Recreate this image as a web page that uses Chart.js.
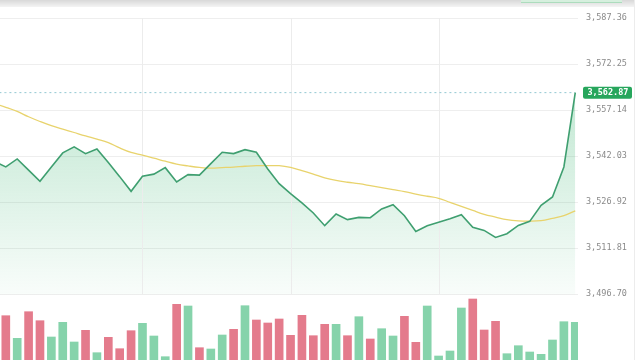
<!DOCTYPE html>
<html>
<head>
<meta charset="utf-8">
<script src="https://cdn.jsdelivr.net/npm/chart.js@4.4.1/dist/chart.umd.min.js"></script>
<style>
  html, body { margin: 0; padding: 0; background: #fff; overflow: hidden; }
  #wrap { position: relative; width: 641px; height: 360px; }
  #priceChart { position: absolute; left: 0; top: 0; }
  .topbar { position: absolute; left: 0; top: 0; width: 634px; height: 7px; background: linear-gradient(#d8d8d8, #f4f4f4); }
  .btn { position: absolute; left: 521px; top: 0; width: 101px; height: 2px; background: #d6efde; border-bottom: 1px solid #acdcbd; }
  .edge { position: absolute; left: 634px; top: 0; width: 1px; height: 360px; background: #ececec; }
</style>
</head>
<body>
<div id="wrap">
  <canvas id="priceChart" width="641" height="360"></canvas>
  <div class="topbar"></div>
  <div class="btn"></div>
  <div class="edge"></div>
</div>
<script>
// closing prices, one per bar (the first one sits just off the left edge)
var closes = [3540.23, 3538.49, 3541.12, 3537.44, 3533.76, 3538.43, 3543.09, 3545.06, 3542.86, 3544.40,
              3539.91, 3535.31, 3530.48, 3535.41, 3536.13, 3538.26, 3533.57, 3535.96, 3535.80, 3539.58,
              3543.29, 3542.86, 3544.17, 3543.29, 3537.84, 3533.01, 3529.72, 3526.67, 3523.39, 3519.22,
              3523.06, 3521.19, 3521.94, 3521.84, 3524.70, 3526.11, 3522.50, 3517.34, 3519.22, 3520.36,
              3521.51, 3522.83, 3518.66, 3517.67, 3515.37, 3516.59, 3519.31, 3520.63, 3525.88, 3528.64,
              3538.49, 3562.87];

// moving average (yellow)
var movingAvg = [3559.28, 3558.07, 3556.69, 3554.95, 3553.40, 3552.02, 3550.91, 3549.79, 3548.67, 3547.62,
                 3546.47, 3544.73, 3543.26, 3542.37, 3541.38, 3540.36, 3539.41, 3538.82, 3538.33, 3538.07,
                 3538.26, 3538.46, 3538.72, 3538.92, 3538.92, 3538.89, 3538.33, 3537.28, 3536.13, 3534.91,
                 3534.06, 3533.47, 3532.98, 3532.35, 3531.69, 3531.04, 3530.41, 3529.59, 3528.87, 3528.21,
                 3526.87, 3525.52, 3524.21, 3522.93, 3522.04, 3521.19, 3520.79, 3520.69, 3520.86, 3521.61,
                 3522.50, 3524.08];

// volume (visible part only, the pane is cut off at the bottom)
var volumes = [300, 443, 217, 483, 393, 230, 377, 180, 297, 73,
               227, 113, 293, 367, 240, 33, 557, 540, 123, 110,
               250, 307, 543, 400, 370, 410, 247, 447, 243, 357,
               357, 243, 433, 210, 313, 240, 437, 177, 540, 40,
               90, 520, 610, 300, 387, 63, 143, 80, 57, 200,
               383, 377];

var priceTicks = [3496.70, 3511.81, 3526.92, 3542.03, 3557.14, 3572.25, 3587.36];
var timeGrid = [13, 26, 39];

var lastPrice = closes[closes.length - 1];
var upColor = '#86d3ab';
var downColor = '#e47b8c';

function points(arr) {
    return arr.map(function (v, i) { return { x: i, y: v }; });
}

function fmt(v) {
    return v.toLocaleString('en-US', { minimumFractionDigits: 2, maximumFractionDigits: 2 });
}

var barColors = volumes.map(function (v, i) {
    return i > 0 && closes[i] >= closes[i - 1] ? upColor : downColor;
});

// vertical time grid, only over the price pane
var timeGridPlugin = {
    id: 'timeGrid',
    beforeDatasetsDraw: function (chart) {
        var c = chart.ctx, x = chart.scales.x, y = chart.scales.y;
        var bottom = y.getPixelForValue(priceTicks[0]);
        c.save();
        c.strokeStyle = '#ececec';
        c.lineWidth = 1;
        timeGrid.forEach(function (t) {
            var px = Math.round(x.getPixelForValue(t)) + 0.5;
            c.beginPath();
            c.moveTo(px, chart.chartArea.top);
            c.lineTo(px, bottom);
            c.stroke();
        });
        c.restore();
    }
};

// last price badge on the axis
var lastPriceTag = {
    id: 'lastPriceTag',
    afterDraw: function (chart) {
        var c = chart.ctx;
        var py = chart.scales.y.getPixelForValue(lastPrice);
        var x0 = chart.chartArea.right + 5;
        c.save();
        c.fillStyle = '#27a65c';
        c.beginPath();
        c.roundRect(x0, py - 6, 49, 12, 2);
        c.fill();
        c.fillStyle = '#ffffff';
        c.font = 'bold 8.5px "DejaVu Sans Mono"';
        c.textBaseline = 'middle';
        c.fillText(fmt(lastPrice), x0 + 4.5, py + 0.5);
        c.restore();
    }
};

var ctx = document.getElementById('priceChart').getContext('2d');

var chart = new Chart(ctx, {
    type: 'line',
    data: {
        datasets: [{
            type: 'line',
            data: points(closes),
            yAxisID: 'y',
            borderColor: '#3f9f70',
            borderWidth: 1.6,
            pointRadius: 0,
            tension: 0,
            order: 1,
            fill: { value: priceTicks[0] },
            backgroundColor: function (context) {
                var ch = context.chart;
                if (!ch.chartArea) return 'rgba(52,178,108,0.1)';
                var y = ch.scales.y;
                var g = ch.ctx.createLinearGradient(0, y.getPixelForValue(lastPrice), 0, y.getPixelForValue(priceTicks[0]));
                g.addColorStop(0, 'rgba(52,178,108,0.30)');
                g.addColorStop(1, 'rgba(52,178,108,0.03)');
                return g;
            }
        }, {
            type: 'line',
            data: points(movingAvg),
            yAxisID: 'y',
            borderColor: '#e8d36c',
            borderWidth: 1.3,
            pointRadius: 0,
            tension: 0.4,
            fill: false,
            order: 2
        }, {
            type: 'line',
            data: points(closes.map(function () { return lastPrice; })),
            yAxisID: 'y',
            borderColor: '#93c8d2',
            borderWidth: 1,
            borderDash: [2, 3],
            pointRadius: 0,
            fill: false,
            order: 3
        }, {
            type: 'bar',
            data: points(volumes),
            yAxisID: 'yv',
            backgroundColor: barColors,
            barThickness: 8,
            order: 4
        }]
    },
    options: {
        responsive: false,
        animation: false,
        layout: { padding: { top: 18, left: 0, right: 0, bottom: 0 } },
        plugins: {
            legend: { display: false },
            tooltip: { enabled: false },
            filler: { drawTime: 'beforeDatasetsDraw' }
        },
        scales: {
            x: {
                type: 'linear',
                display: false,
                offset: false,
                min: 0.49,
                max: 51.24
            },
            y: {
                position: 'right',
                min: 3475.14,
                max: 3587.36,
                afterBuildTicks: function (scale) {
                    scale.ticks = priceTicks.map(function (v) { return { value: v }; });
                },
                afterFit: function (scale) {
                    scale.width = 63;
                    scale.paddingTop = 0;
                    scale.paddingBottom = 0;
                },
                grid: { color: '#eeeeee', drawTicks: false },
                border: { display: false },
                ticks: {
                    padding: 8,
                    color: '#8a8a8a',
                    font: { family: '"DejaVu Sans Mono"', size: 8.5 },
                    callback: function (v) { return fmt(v); }
                }
            },
            yv: {
                display: false,
                min: 0,
                max: 3420
            }
        }
    },
    plugins: [timeGridPlugin, lastPriceTag]
});
</script>
</body>
</html>
